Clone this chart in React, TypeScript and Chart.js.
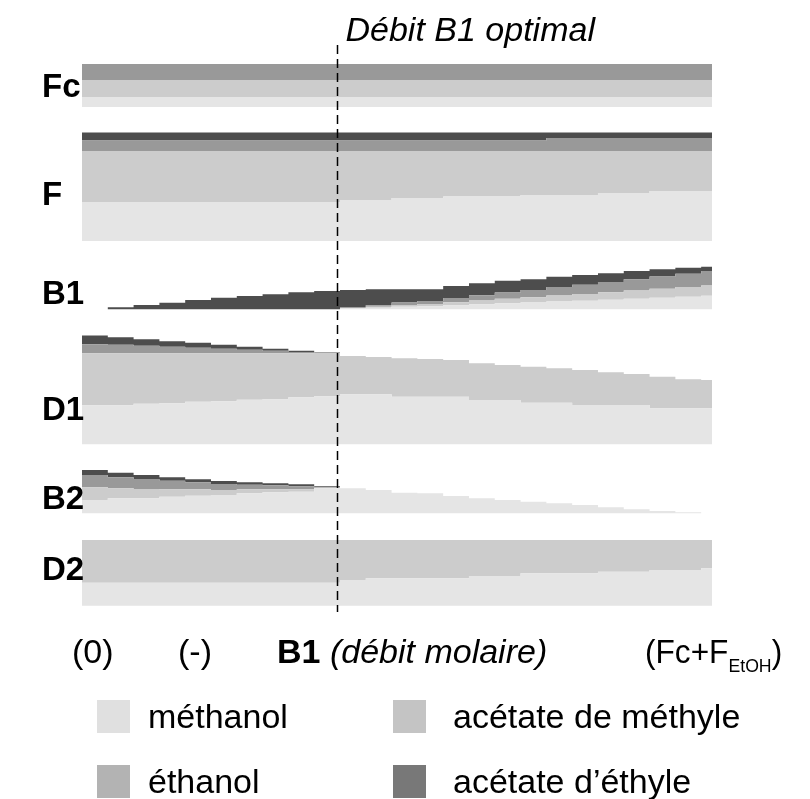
import { useEffect, useRef } from 'react';
import { Chart, registerables } from 'chart.js';

Chart.register(...registerables);

// Sweep of the B1 molar flow, in steps from 0 up to Fc + F_EtOH
const B1_STEPS = [0, 1, 2, 3, 4, 5, 6, 7, 8, 9, 10, 11, 12, 13, 14, 15, 16, 17, 18, 19, 20, 21, 22, 23, 24];
const B1_MAX = 24.42;
const B1_OPTIMAL = 9.9;

const STREAMS = ['Fc', 'F', 'B1', 'D1', 'B2', 'D2'];
const COMPONENTS = ['méthanol', 'acétate de méthyle', 'éthanol', 'acétate d’éthyle'];

// Component flows of each stream along the sweep (one value per step)
const FC_MEOH = [10, 10, 10, 10, 10, 10, 10, 10, 10, 10, 10, 10, 10, 10, 10, 10, 10, 10, 10, 10, 10, 10, 10, 10, 10];
const FC_MEAC = [17, 17, 17, 17, 17, 17, 17, 17, 17, 17, 17, 17, 17, 17, 17, 17, 17, 17, 17, 17, 17, 17, 17, 17, 17];
const FC_ETOH = [16, 16, 16, 16, 16, 16, 16, 16, 16, 16, 16, 16, 16, 16, 16, 16, 16, 16, 16, 16, 16, 16, 16, 16, 16];
const FC_ETAC = [0, 0, 0, 0, 0, 0, 0, 0, 0, 0, 0, 0, 0, 0, 0, 0, 0, 0, 0, 0, 0, 0, 0, 0, 0];

const F_MEOH = [39, 39, 39, 39, 39, 39, 39, 39, 39, 39, 41, 41, 43, 43, 44.5, 44.5, 44.5, 46, 46, 46, 48, 48, 50, 50, 50];
const F_MEAC = [51, 51, 51, 51, 51, 51, 51, 51, 51, 51, 49, 49, 47, 47, 45.5, 45.5, 45.5, 44, 44, 44, 42, 42, 40, 40, 40];
const F_ETOH = [10.5, 10.5, 10.5, 10.5, 10.5, 10.5, 10.5, 10.5, 10.5, 10.5, 10.5, 10.5, 10.5, 10.5, 10.5, 10.5, 10.5, 10.5, 13, 13, 13, 13, 13, 13, 13];
const F_ETAC = [8, 8, 8, 8, 8, 8, 8, 8, 8, 8, 8, 8, 8, 8, 8, 8, 8, 8, 5.5, 5.5, 5.5, 5.5, 5.5, 5.5, 5.5];

const B1_MEOH = [0, 0, 0, 0, 0, 0, 0, 0, 0, 0, 0.7, 1.5, 2.5, 3, 4, 5, 6, 6.8, 7.8, 8.6, 9.6, 10.6, 11.6, 12.6, 13.5];
const B1_MEAC = [0, 0, 0, 0, 0, 0, 0, 0, 0, 0, 0.5, 1, 1.8, 2.2, 3, 3.7, 4.5, 5.2, 6, 6.6, 7.4, 8.2, 9, 9.6, 10.2];
const B1_ETOH = [0, 0, 0, 0, 0, 0, 0, 0, 0, 0, 0.6, 1.5, 2.5, 3.2, 4.3, 5.3, 6.4, 7.3, 8.4, 9.3, 10.3, 11.3, 12.2, 13.4, 14.6];
const B1_ETAC = [0, 2, 4.3, 6.6, 9.3, 11.6, 13.3, 15, 17, 18.3, 17.5, 16, 13.2, 11.6, 12, 12, 11.7, 10.7, 10.4, 9.8, 8.7, 8.2, 7.2, 6, 4.3];

const D1_MEOH = [39, 39, 40.5, 41, 42.5, 43, 44.5, 45, 47, 48, 50, 50, 47.5, 47.5, 47.5, 44.3, 44.3, 41.6, 41.6, 39.3, 39.3, 39.3, 36, 36, 36];
const D1_MEAC = [52, 52, 50.5, 50, 48.5, 48, 46.5, 46, 44, 43, 38.3, 37.3, 38.5, 37.8, 36.8, 36.7, 35, 36, 34.4, 35, 32.7, 31, 31.6, 29, 28.3];
const D1_ETOH = [9, 8.5, 7.5, 6.5, 5.5, 4.5, 3.5, 2.5, 1.2, 0, 0, 0, 0, 0, 0, 0, 0, 0, 0, 0, 0, 0, 0, 0, 0];
const D1_ETAC = [8.7, 7.5, 6.5, 5.5, 5, 4, 3, 2, 1.3, 0.8, 0, 0, 0, 0, 0, 0, 0, 0, 0, 0, 0, 0, 0, 0, 0];

const B2_MEOH = [13.3, 15, 15, 16.6, 17.5, 18.3, 20, 21, 21.6, 25, 25, 23.3, 20.6, 20, 17.3, 15, 13.3, 11.6, 10, 8.3, 6, 4, 2.3, 1, 0];
const B2_MEAC = [12.7, 10.1, 9.3, 7.4, 6.5, 5, 4, 3, 2.4, 0.5, 0, 0, 0, 0, 0, 0, 0, 0, 0, 0, 0, 0, 0, 0, 0];
const B2_ETOH = [12.3, 11, 10, 8.5, 7, 6, 4.5, 4, 3, 0.5, 0, 0, 0, 0, 0, 0, 0, 0, 0, 0, 0, 0, 0, 0, 0];
const B2_ETAC = [5, 4.5, 4, 3.5, 3, 3, 2.5, 2, 2, 1, 0, 0, 0, 0, 0, 0, 0, 0, 0, 0, 0, 0, 0, 0, 0];

const D2_MEOH = [23, 23, 23, 23, 23, 23, 23, 23, 23, 23, 25.7, 27.4, 27.4, 27.4, 27.4, 29.7, 29.7, 32.4, 32.4, 32.4, 34, 34, 35.7, 35.7, 37.4];
const D2_MEAC = [42.7, 42.7, 42.7, 42.7, 42.7, 42.7, 42.7, 42.7, 42.7, 42.7, 40, 38.3, 38.3, 38.3, 38.3, 36, 36, 33.3, 33.3, 33.3, 31.7, 31.7, 30, 30, 28.3];
const D2_ETOH = [0, 0, 0, 0, 0, 0, 0, 0, 0, 0, 0, 0, 0, 0, 0, 0, 0, 0, 0, 0, 0, 0, 0, 0, 0];
const D2_ETAC = [0, 0, 0, 0, 0, 0, 0, 0, 0, 0, 0, 0, 0, 0, 0, 0, 0, 0, 0, 0, 0, 0, 0, 0, 0];

// ---- presentation ----
const FILL = ['#e5e5e5', '#cccccc', '#999999', '#4d4d4d'];
const SWATCH = ['#e0e0e0', '#c4c4c4', '#b3b3b3', '#787878'];
const FONT = '"Liberation Sans", Arial, Helvetica, sans-serif';

const Y_SPAN = 567; // vertical extent of the plot, one unit per pixel
const LANE_BASE = [505, 371, 302.7, 167.7, 98.7, 6.3]; // baseline of each stream's band
const LANE_LABEL_Y = [97, 205, 304, 420, 509, 580];

const FLOWS = [
  [FC_MEOH, FC_MEAC, FC_ETOH, FC_ETAC],
  [F_MEOH, F_MEAC, F_ETOH, F_ETAC],
  [B1_MEOH, B1_MEAC, B1_ETOH, B1_ETAC],
  [D1_MEOH, D1_MEAC, D1_ETOH, D1_ETAC],
  [B2_MEOH, B2_MEAC, B2_ETOH, B2_ETAC],
  [D2_MEOH, D2_MEAC, D2_ETOH, D2_ETAC],
];

function buildDatasets() {
  const datasets: any[] = [];
  STREAMS.forEach((name, s) => {
    const base = LANE_BASE[s];
    const running = B1_STEPS.map(() => base);
    FLOWS[s].forEach((flow, c) => {
      const tops = flow.map((v, i) => (running[i] += v));
      const pts = B1_STEPS.map((x, i) => ({ x, y: tops[i] }));
      pts.push({ x: B1_MAX, y: tops[tops.length - 1] });
      datasets.push({
        label: `${name} – ${COMPONENTS[c]}`,
        data: pts,
        stepped: 'before',
        fill: c === 0 ? { value: base } : '-1',
        backgroundColor: FILL[c],
        borderColor: 'rgba(0,0,0,0)',
        borderWidth: 0,
        pointRadius: 0,
      });
    });
  });
  return datasets;
}

function font(style: string, size: number) {
  return `${style} ${size}px ${FONT}`;
}

const decorations = {
  id: 'decorations',
  afterDraw(chart: any) {
    const { ctx, chartArea } = chart;
    const xs = chart.scales.x;
    ctx.save();

    // optimal B1 flow marker
    const xo = Math.round(xs.getPixelForValue(B1_OPTIMAL)) + 0.5;
    ctx.strokeStyle = '#000';
    ctx.lineWidth = 1.5;
    ctx.setLineDash([9, 5]);
    ctx.beginPath();
    ctx.moveTo(xo, chartArea.top);
    ctx.lineTo(xo, chartArea.bottom);
    ctx.stroke();
    ctx.setLineDash([]);

    ctx.fillStyle = '#000';
    ctx.textBaseline = 'alphabetic';
    ctx.textAlign = 'left';
    ctx.font = font('italic', 34);
    ctx.fillText('Débit B1 optimal', xo + 8, 41);

    // stream names
    ctx.font = font('bold', 33);
    STREAMS.forEach((name, s) => ctx.fillText(name, 42, LANE_LABEL_Y[s]));

    // flow axis
    const axisY = 663;
    ctx.font = font('normal', 34);
    ctx.fillText('(0)', 72, axisY);
    ctx.fillText('(-)', 178, axisY);
    ctx.font = font('bold', 34);
    ctx.fillText('B1', 277, axisY);
    let x = 277 + ctx.measureText('B1 ').width;
    ctx.font = font('italic', 34);
    ctx.fillText('(débit molaire)', x, axisY);

    // upper end of the sweep: Fc + F_EtOH (slightly condensed)
    ctx.save();
    ctx.translate(645, axisY);
    ctx.scale(0.93, 1);
    ctx.font = font('normal', 34);
    x = 0;
    ctx.fillText('(Fc+F', x, 0);
    x += ctx.measureText('(Fc+F').width;
    ctx.font = font('normal', 19);
    ctx.fillText('EtOH', x, 9);
    x += ctx.measureText('EtOH').width;
    ctx.font = font('normal', 34);
    ctx.fillText(')', x, 0);
    ctx.restore();

    // legend
    const boxX = [97, 393];
    const textX = [148, 453];
    const rows = [700, 765];
    ctx.font = font('normal', 34);
    COMPONENTS.forEach((label, c) => {
      const col = c % 2;
      const ly = rows[Math.floor(c / 2)];
      ctx.fillStyle = SWATCH[c];
      ctx.fillRect(boxX[col], ly, 33, 33);
      ctx.fillStyle = '#000';
      ctx.fillText(label, textX[col], ly + 28);
    });

    ctx.restore();
  },
};

export default function App() {
  const ref = useRef<HTMLCanvasElement | null>(null);

  useEffect(() => {
    if (!ref.current) return;
    const chart = new Chart(ref.current, {
      type: 'line',
      data: { datasets: buildDatasets() },
      options: {
        responsive: false,
        animation: false,
        devicePixelRatio: 1,
        layout: { padding: { left: 82, right: 98, top: 45, bottom: 187 } },
        scales: {
          x: { type: 'linear', min: 0, max: B1_MAX, display: false },
          y: { type: 'linear', min: 0, max: Y_SPAN, display: false },
        },
        plugins: {
          legend: { display: false },
          tooltip: { enabled: false },
        },
        elements: { point: { radius: 0 } },
      },
      plugins: [decorations],
    } as any);
    return () => chart.destroy();
  }, []);

  return (
    <div style={{ position: 'fixed', left: 0, top: 0, width: 810, height: 799, background: '#fff' }}>
      <canvas ref={ref} width={810} height={799} style={{ display: 'block' }} />
    </div>
  );
}
